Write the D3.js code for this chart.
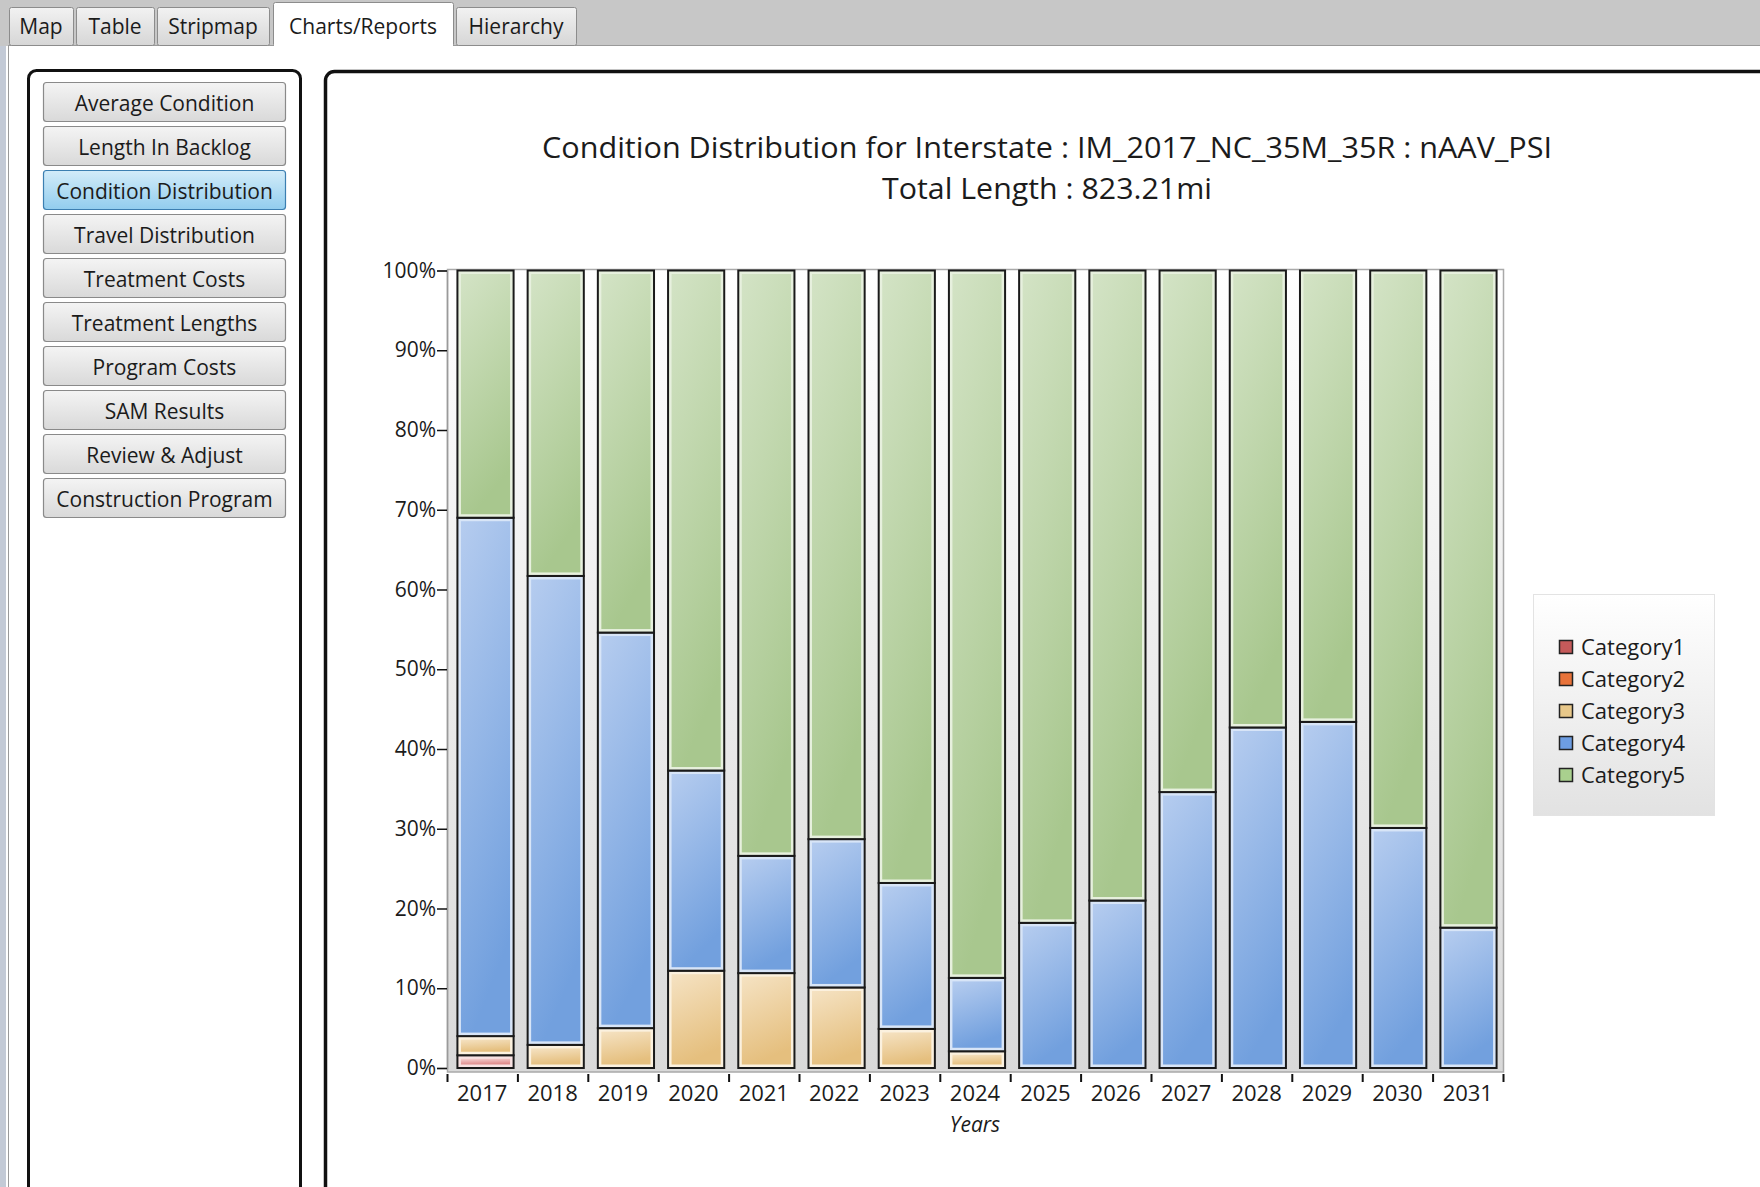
<!DOCTYPE html>
<html>
<head>
<meta charset="utf-8">
<script src="https://cdn.jsdelivr.net/npm/d3@7"></script>
<style>
  body { margin: 0; background: #fff; }
  svg { display: block; font-family: "Open Sans", "Noto Sans", sans-serif; }
</style>
</head>
<body>
<svg id="chart" width="1760" height="1187"></svg>
<script>
// Chart values (percent of total length)
const years = ['2017', '2018', '2019', '2020', '2021', '2022', '2023', '2024',
               '2025', '2026', '2027', '2028', '2029', '2030', '2031'];
const categories = ['Category1', 'Category2', 'Category3', 'Category4', 'Category5'];
const cat1 = [1.6, 0, 0, 0, 0, 0, 0, 0, 0, 0, 0, 0, 0, 0, 0];
const cat2 = [0, 0, 0, 0, 0, 0, 0, 0, 0, 0, 0, 0, 0, 0, 0];
const cat3 = [2.4, 2.9, 5.0, 12.2, 11.9, 10.1, 4.9, 2.1, 0, 0, 0, 0, 0, 0, 0];
const cat4 = [65.0, 58.8, 49.6, 25.1, 14.7, 18.6, 18.3, 9.2, 18.2, 21.0, 34.6, 42.7, 43.4, 30.1, 17.6];
const cat5 = [31.0, 38.3, 45.4, 62.7, 73.4, 71.3, 76.8, 88.7, 81.8, 79.0, 65.4, 57.3, 56.6, 69.9, 82.4];
const yTicks = [0, 10, 20, 30, 40, 50, 60, 70, 80, 90, 100];

const tabLabels = ['Map', 'Table', 'Stripmap', 'Charts/Reports', 'Hierarchy'];
const buttonLabels = ['Average Condition', 'Length In Backlog', 'Condition Distribution',
  'Travel Distribution', 'Treatment Costs', 'Treatment Lengths', 'Program Costs',
  'SAM Results', 'Review & Adjust', 'Construction Program'];
const titleLines = ['Condition Distribution for Interstate : IM_2017_NC_35M_35R : nAAV_PSI',
  'Total Length : 823.21mi'];

// colours per category: [gradient top, gradient bottom, inner rim, legend swatch]
const catColors = {
  Category1: ['#f5d2d2', '#e08c8c', '#f8e2e2', '#c55a5a'],
  Category2: ['#f6bd9f', '#e27444', '#fbe0d0', '#e8733a'],
  Category3: ['#f5e2c2', '#e5bf7e', '#fbf1df', '#e8c88a'],
  Category4: ['#b5ccef', '#72a0de', '#d8e5f7', '#6d9de2'],
  Category5: ['#d3e3c5', '#a8c78e', '#e7f0de', '#a9d08e']
};

const svg = d3.select('#chart');
const defs = svg.append('defs');

function vGrad(id, c0, c1, x2) {
  const g = defs.append('linearGradient').attr('id', id)
    .attr('x1', 0).attr('y1', 0).attr('x2', x2 || 0).attr('y2', 1);
  g.append('stop').attr('offset', 0).attr('stop-color', c0);
  g.append('stop').attr('offset', 1).attr('stop-color', c1);
}
categories.forEach((c, i) => vGrad('g' + i, catColors[c][0], catColors[c][1], 0.25));
vGrad('plotBg', '#ffffff', '#d9d9d9');
vGrad('legendBg', '#ffffff', '#e2e2e2');
vGrad('btn', '#f4f4f4', '#d9d9d9');
vGrad('btnSel', '#d3ecf9', '#92cdee');
vGrad('tab', '#f2f2f2', '#d6d6d6');

// ---- window chrome: tab strip ----
svg.append('rect').attr('width', 1760).attr('height', 46).attr('fill', '#c7c7c7');
svg.append('rect').attr('x', 0).attr('y', 46).attr('width', 6).attr('height', 1141).attr('fill', '#c3cad6');
svg.append('rect').attr('x', 8.5).attr('y', 45.5).attr('width', 1760).attr('height', 1150)
  .attr('fill', '#fff').attr('stroke', '#9a9a9a');

const tabX = [9, 76, 157, 273, 456];
const tabW = [64, 78, 112, 180, 120];
tabLabels.forEach((t, i) => {
  const sel = t === 'Charts/Reports';
  svg.append('rect')
    .attr('x', tabX[i] + 0.5).attr('y', sel ? 2.5 : 7.5)
    .attr('width', tabW[i]).attr('height', sel ? 44 : 38).attr('rx', 2)
    .attr('fill', sel ? '#fff' : 'url(#tab)').attr('stroke', '#8c8c8c');
  svg.append('text')
    .attr('x', tabX[i] + tabW[i] / 2).attr('y', 27).attr('dy', '0.35em')
    .attr('text-anchor', 'middle').attr('font-size', 21).attr('fill', '#1b1b1b')
    .text(t);
});
svg.append('rect').attr('x', 274).attr('y', 42).attr('width', 179).attr('height', 8).attr('fill', '#fff');

// ---- left button panel ----
svg.append('rect').attr('x', 28.5).attr('y', 70.5).attr('width', 272).attr('height', 1140)
  .attr('rx', 8).attr('fill', '#fff').attr('stroke', '#111').attr('stroke-width', 3);

buttonLabels.forEach((b, i) => {
  const sel = b === 'Condition Distribution';
  const y0 = 82 + i * 44;
  svg.append('rect')
    .attr('x', 43.5).attr('y', y0 + 0.5).attr('width', 242).attr('height', 39).attr('rx', 3)
    .attr('fill', sel ? 'url(#btnSel)' : 'url(#btn)')
    .attr('stroke', sel ? '#3c7fb1' : '#8a8a8a').attr('stroke-width', 1.2);
  svg.append('text')
    .attr('x', 164.5).attr('y', y0 + 22).attr('dy', '0.35em')
    .attr('text-anchor', 'middle').attr('font-size', 21).attr('fill', '#1b1b1b')
    .text(b);
});

// ---- chart panel ----
svg.append('rect').attr('x', 325.5).attr('y', 71.5).attr('width', 1500).attr('height', 1200)
  .attr('rx', 9).attr('fill', '#fff').attr('stroke', '#111').attr('stroke-width', 3.5);

svg.selectAll('.title').data(titleLines).join('text')
  .attr('class', 'title')
  .attr('x', 1047).attr('y', (d, i) => 158 + i * 41)
  .attr('text-anchor', 'middle').attr('font-size', 30).attr('fill', '#1b1b1b')
  .attr('textLength', (d, i) => i === 0 ? 1010 : 330)
  .attr('lengthAdjust', 'spacingAndGlyphs')
  .text(d => d);

// ---- plot ----
const plotLeft = 447, plotRight = 1503, plotTop = 270.5, plotBottom = 1068;

const table = years.map((yr, i) => ({
  year: yr, Category1: cat1[i], Category2: cat2[i], Category3: cat3[i],
  Category4: cat4[i], Category5: cat5[i]
}));
const series = d3.stack().keys(categories)(table);

const x = d3.scaleBand().domain(years).range([plotLeft, plotRight])
  .paddingInner(0.2).paddingOuter(0.12);
const xEdge = d3.scaleLinear().domain([0, years.length]).range([plotLeft, plotRight]);
const y = d3.scaleLinear().domain([0, 100]).range([plotBottom, plotTop]);

svg.append('rect')
  .attr('x', plotLeft + 0.5).attr('y', plotTop - 1)
  .attr('width', plotRight - plotLeft).attr('height', plotBottom - plotTop + 5)
  .attr('fill', 'url(#plotBg)').attr('stroke', '#a9a9a9').attr('stroke-width', 1.5);

const layer = svg.append('g').selectAll('g').data(series).join('g');

layer.each(function (s, si) {
  const cat = s.key;
  const segs = s.filter(d => d[1] - d[0] > 0);
  const g = d3.select(this);
  g.selectAll('rect.outer').data(segs).join('rect')
    .attr('class', 'outer')
    .attr('x', d => x(d.data.year) + 2)
    .attr('y', d => y(d[1]))
    .attr('width', x.bandwidth())
    .attr('height', d => y(d[0]) - y(d[1]))
    .attr('fill', catColors[cat][2])
    .attr('stroke', '#1a1a1a').attr('stroke-width', 2);
  g.selectAll('rect.inner').data(segs).join('rect')
    .attr('class', 'inner')
    .attr('x', d => x(d.data.year) + 2 + 3.5)
    .attr('y', d => y(d[1]) + 3.5)
    .attr('width', x.bandwidth() - 7)
    .attr('height', d => Math.max(0, y(d[0]) - y(d[1]) - 7))
    .attr('fill', 'url(#g' + si + ')');
});

// y axis
const yAxis = svg.append('g')
  .attr('transform', `translate(${plotLeft},0)`)
  .call(d3.axisLeft(y).tickValues(yTicks).tickFormat(d => d + '%').tickSize(10).tickPadding(1));
yAxis.select('.domain').attr('stroke', '#9a9a9a').attr('stroke-width', 1.5);
yAxis.selectAll('.tick line').attr('stroke', '#111').attr('stroke-width', 1.5);
yAxis.selectAll('.tick text').attr('font-size', 21).attr('fill', '#1b1b1b')
  .attr('font-family', '"Open Sans", sans-serif');

// x axis: ticks on band edges, labels in band centres
const xAxis = svg.append('g')
  .attr('transform', `translate(0,${plotBottom + 6})`)
  .call(d3.axisBottom(xEdge).tickValues(d3.range(years.length + 1)).tickFormat('').tickSize(8));
xAxis.select('.domain').remove();
xAxis.selectAll('.tick line').attr('stroke', '#111').attr('stroke-width', 2);

svg.append('g').selectAll('text').data(years).join('text')
  .attr('x', d => xEdge(years.indexOf(d) + 0.5))
  .attr('y', 1093).attr('dy', '0.35em')
  .attr('text-anchor', 'middle').attr('font-size', 22).attr('fill', '#1b1b1b')
  .text(d => d);

svg.append('text')
  .attr('x', (plotLeft + plotRight) / 2).attr('y', 1125).attr('dy', '0.35em')
  .attr('text-anchor', 'middle').attr('font-size', 21).attr('font-style', 'italic')
  .attr('fill', '#1b1b1b').text('Years');

// ---- legend ----
svg.append('rect').attr('x', 1533.5).attr('y', 594.5).attr('width', 181).attr('height', 221)
  .attr('fill', 'url(#legendBg)').attr('stroke', '#e3e3e3');

const legend = svg.append('g').selectAll('g').data(categories).join('g')
  .attr('transform', (d, i) => `translate(1559,${647 + i * 32})`);
legend.append('rect')
  .attr('x', 0.5).attr('y', -6.5).attr('width', 13).attr('height', 13)
  .attr('fill', d => catColors[d][3]).attr('stroke', '#222').attr('stroke-width', 1.5);
legend.append('text')
  .attr('x', 22).attr('dy', '0.35em').attr('font-size', 22).attr('fill', '#1b1b1b')
  .text(d => d);
</script>
</body>
</html>
